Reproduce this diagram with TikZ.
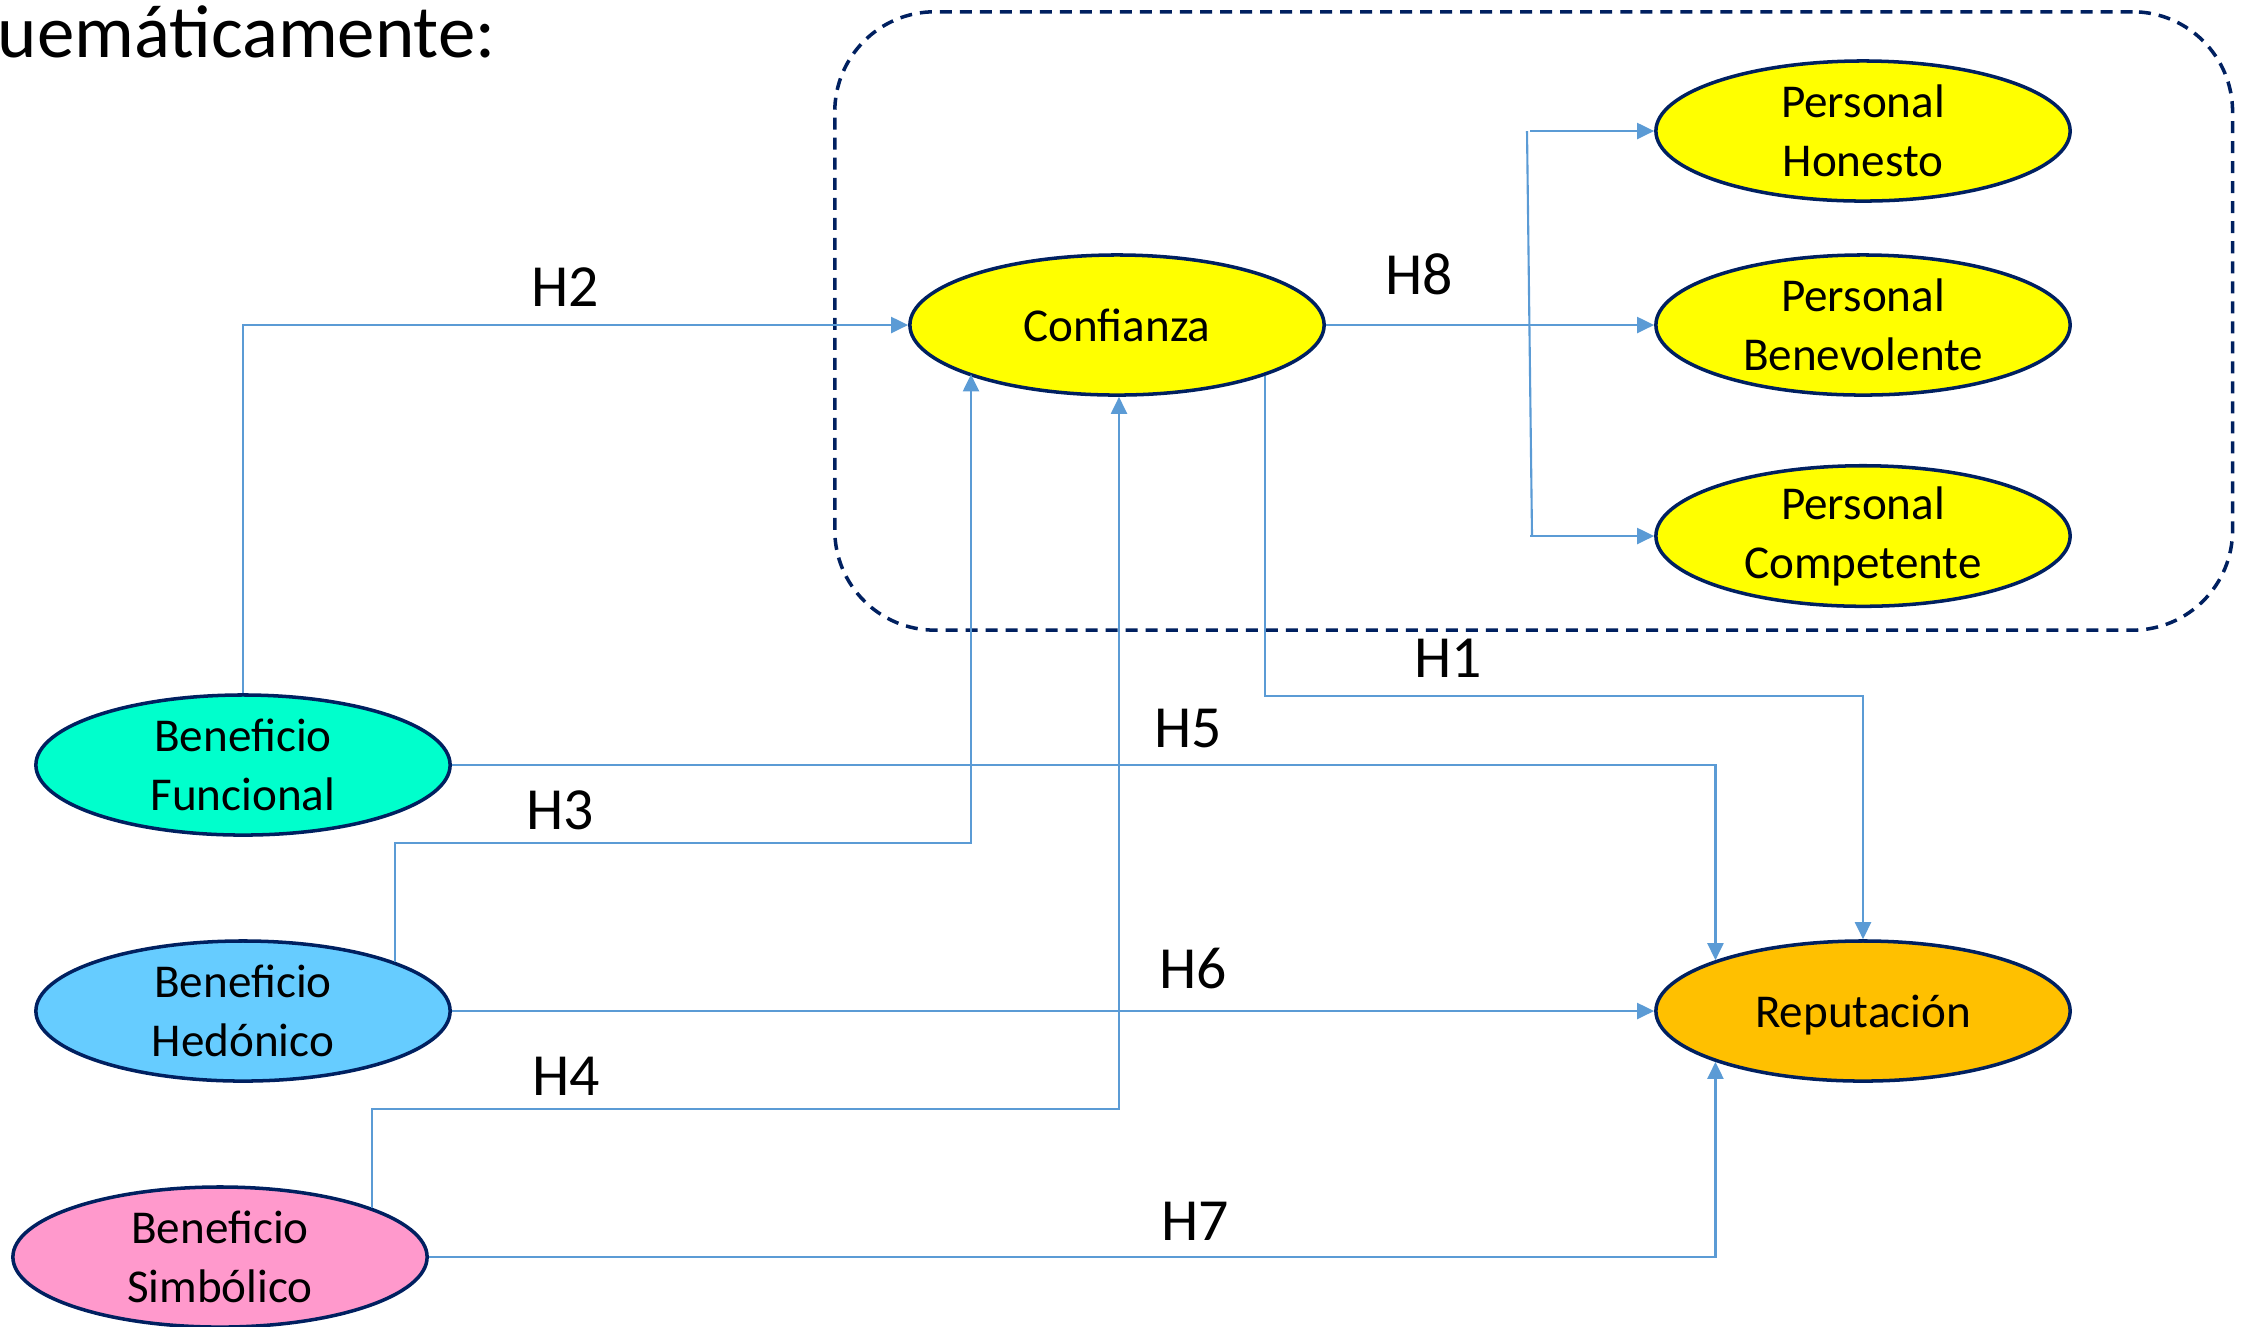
\documentclass[tikz,border=0pt]{standalone}
\usepackage{fontspec}
\setmainfont{Carlito}
\usetikzlibrary{shapes.geometric,arrows.meta,calc}
\definecolor{navy}{RGB}{0,32,96}
\definecolor{conn}{RGB}{91,155,213}
\definecolor{yel}{RGB}{255,255,0}
\definecolor{func}{RGB}{0,255,204}
\definecolor{hedo}{RGB}{102,204,255}
\definecolor{simb}{RGB}{255,153,204}
\definecolor{repu}{RGB}{255,192,0}
\begin{document}
\begin{tikzpicture}[x=0.01cm,y=0.01cm,
  oval/.style={ellipse,draw=navy,line width=1pt,minimum width=4.14cm,minimum height=1.40cm,inner sep=0pt,align=center,font=\fontsize{13.4pt}{16.8pt}\selectfont},
  link/.style={draw=conn,line width=0.6pt,-{Triangle[length=0.17cm,width=0.16cm]}},
  plain/.style={draw=conn,line width=0.6pt},
  hlab/.style={inner sep=0pt,font=\fontsize{17pt}{20pt}\selectfont},
  grp/.style={draw=navy,line width=1pt,dash pattern=on 0.12cm off 0.08cm,rounded corners=1cm}]
\useasboundingbox (0,0) rectangle (2252,-1326);
\node[anchor=base west,inner sep=0pt,font=\fontsize{21.3pt}{25pt}\selectfont] (title) at (-3,-57) {uemáticamente:};
\node[grp,minimum width=13.97cm,minimum height=6.18cm,anchor=north west,inner sep=0pt] (group) at (833,-10) {};
\node[oval,fill=yel] (conf) at (1117,-325) {Confianza};
\node[oval,fill=yel] (hon) at (1863,-131) {Personal\\Honesto};
\node[oval,fill=yel] (ben) at (1863,-325) {Personal\\Benevolente};
\node[oval,fill=yel] (comp) at (1863,-536) {Personal\\Competente};
\node[oval,fill=repu,text depth=0pt] (rep) at (1863,-1011) {Reputación};
\node[oval,fill=func] (fun) at (243,-765) {Beneficio\\Funcional};
\node[oval,fill=hedo] (hed) at (243,-1011) {Beneficio\\Hedónico};
\node[oval,fill=simb] (sim) at (220,-1257) {Beneficio\\Simbólico};
% branch to Personal nodes
\coordinate (bt) at (1527,-131);
\coordinate (bb) at (1532,-536);
\draw[plain] (bt) -- (bb);
\draw[link] ([xshift=0.03cm]bt) -- (hon.west);
\draw[link] ([xshift=-0.02cm]bb) -- (comp.west);
\draw[link] (conf.east) -- (ben.west);
% H2
\draw[link] (fun.north) |- (conf.west);
% H1
\draw[link] (conf.-19.2) |- ([yshift=2.43cm]rep.north) -- (rep.north);
% H5
\draw[link] (fun.east) -| (rep.161);
% H3
\coordinate (h3c) at (971,-843);
\draw[link] (hed.18.3) |- (h3c) -- (h3c |- conf.198.77);
% H6
\draw[link] (hed.east) -- (rep.west);
% H4
\coordinate (h4c) at (1119,-1109);
\draw[link] (sim.18.3) |- (h4c) -- (h4c |- conf.south);
% H7
\draw[link] (sim.east) -| (rep.199);
% labels
\node[hlab] (l2) at (565,-287) {H2};
\node[hlab] (l8) at (1419,-274) {H8};
\node[hlab] (l1) at (1448,-658) {H1};
\node[hlab] (l5) at (1188,-728) {H5};
\node[hlab] (l3) at (560,-810) {H3};
\node[hlab] (l6) at (1193,-969) {H6};
\node[hlab] (l4) at (566,-1076) {H4};
\node[hlab] (l7) at (1195,-1221) {H7};
\end{tikzpicture}
\end{document}
